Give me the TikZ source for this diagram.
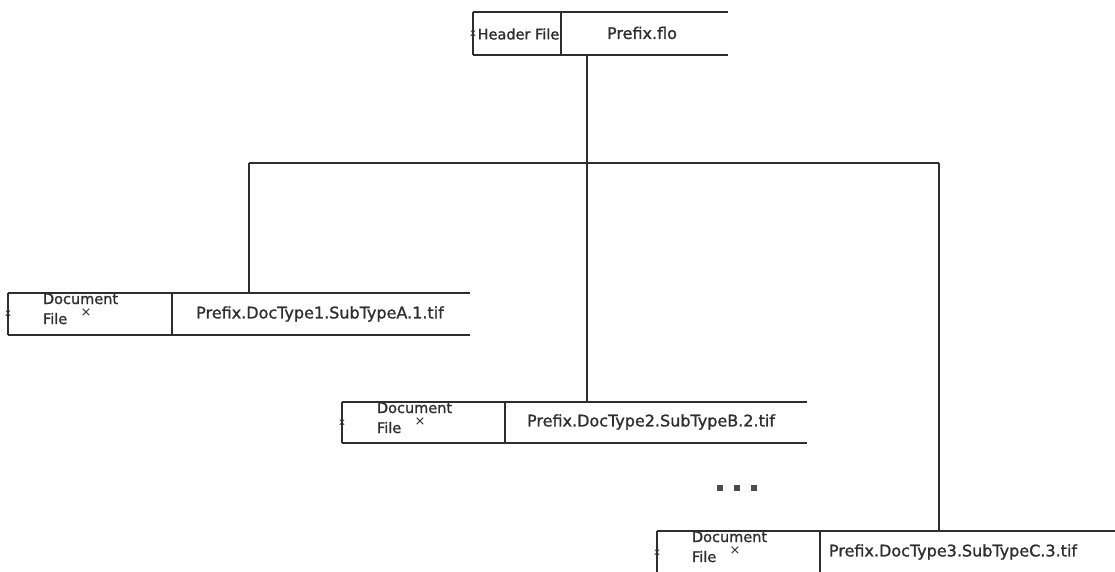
\documentclass[tikz,border=0pt]{standalone}
\usepackage{fontspec}
\setmainfont{DejaVu Sans}
\newfontfamily\heavyfont[FakeBold=1.2]{DejaVu Sans}
\begin{document}
\begin{tikzpicture}[x=1pt,y=-1pt,
  every node/.style={inner sep=0pt,outer sep=0pt},
  cell/.style={rectangle,minimum height=#1},
  ln/.style={draw=black!82,line width=1.8pt},
  maintxt/.style={font=\heavyfont\fontsize{16}{17}\selectfont,text=black!82},
  smalltxt/.style={font=\heavyfont\fontsize{14.5}{15}\selectfont,text=black!82,anchor=base west},
  xmark/.style={font=\fontsize{10}{10}\selectfont,text=black!82},
  dotsq/.style={fill=black!70,minimum width=6pt,minimum height=6pt}]
\useasboundingbox (0,0) rectangle (1115,572);
% header
\node[cell=43pt,minimum width=88pt] (hL) at (517,33.5) {};
\node[cell=43pt,minimum width=167pt] (hR) at (644.5,33.5) {};
\node[maintxt,font=\heavyfont\fontsize{14.5}{16}\selectfont] (hLt) at (518.5,34) {Header File};
\node[maintxt] (hRt) at (642,33) {Prefix.flo};
\node[xmark] (hLx) at (hL.west) {x};
% box 1
\node[cell=42pt,minimum width=164pt] (b1L) at (90,314) {};
\node[cell=42pt,minimum width=298pt] (b1R) at (321,314) {};
% box 2
\node[cell=41pt,minimum width=163pt] (b2L) at (423.5,422.5) {};
\node[cell=41pt,minimum width=302pt] (b2R) at (656,422.5) {};
% box 3
\node[cell=43pt,minimum width=163pt] (b3L) at (738.5,552.5) {};
\node[cell=43pt,minimum width=300pt] (b3R) at (970,552.5) {};
% texts
\node[maintxt] (b1t) at (320,314) {Prefix.DocType1.SubTypeA.1.tif};
\node[maintxt] (b2t) at (651,422) {Prefix.DocType2.SubTypeB.2.tif};
\node[maintxt] (b3t) at (953,552) {Prefix.DocType3.SubTypeC.3.tif};
\foreach \b/\x/\y in {b1/43/304, b2/377/413, b3/692/542}{
  \node[smalltxt] (\b doc) at (\x,\y) {Document};
  \node[smalltxt] (\b file) at (\x,\y+20) {File};
  \node[font=\fontsize{13}{13}\selectfont,text=black!82] (\b times) at (\x+43,\y+9) {×};
  \node[xmark] (\b x) at (\b L.west) {x};
}
% borders (right side open)
\foreach \b in {h,b1,b2,b3}{
  \draw[ln] (\b L.north west) -- (\b R.north east);
  \draw[ln] (\b L.south west) -- (\b R.south east);
  \draw[ln] (\b L.north west) -- (\b L.south west);
  \draw[ln] (\b L.north east) -- (\b L.south east);
}
% dots
\node[dotsq] (d1) at (720,488) {};
\node[dotsq] (d2) at (737,488) {};
\node[dotsq] (d3) at (754,488) {};
% connectors
\coordinate (busL) at (249,163);
\coordinate (busM) at (587,163);
\coordinate (busR) at (939,163);
\draw[ln] (busL) -- (busR);
\draw[ln] (busM |- hR.south) -- (busM |- b2R.north);
\draw[ln] (busL) -- (busL |- b1R.north);
\draw[ln] (busR) -- (busR |- b3R.north);
\end{tikzpicture}
\end{document}
